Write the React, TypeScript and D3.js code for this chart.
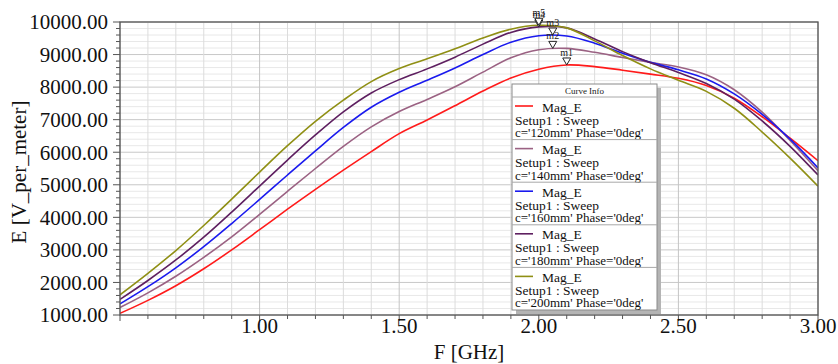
import React from 'react';
import * as d3 from 'd3';

// ---------- data ----------
const freqs = [0.5, 0.6, 0.7, 0.8, 0.9, 1.0, 1.1, 1.2, 1.3, 1.4, 1.5, 1.6, 1.7, 1.8, 1.9, 2.0, 2.1, 2.2, 2.3, 2.4, 2.5, 2.6, 2.7, 2.8, 2.9, 3.0];
const mag120 = [1050, 1450, 1900, 2420, 3000, 3620, 4250, 4860, 5450, 6020, 6570, 6990, 7430, 7880, 8280, 8550, 8680, 8630, 8520, 8400, 8270, 8050, 7660, 7090, 6430, 5740];
const mag140 = [1230, 1680, 2190, 2770, 3400, 4090, 4800, 5500, 6180, 6780, 7250, 7620, 8010, 8460, 8900, 9150, 9190, 9070, 8910, 8760, 8620, 8380, 7920, 7230, 6360, 5430];
const mag160 = [1340, 1870, 2450, 3100, 3810, 4550, 5300, 6040, 6760, 7380, 7840, 8210, 8590, 9000, 9380, 9580, 9570, 9350, 9040, 8760, 8530, 8250, 7790, 7160, 6400, 5520];
const mag180 = [1480, 2060, 2690, 3390, 4160, 4960, 5760, 6530, 7240, 7820, 8230, 8560, 8920, 9320, 9680, 9850, 9820, 9480, 9090, 8750, 8450, 8110, 7630, 6960, 6180, 5300];
const mag200 = [1620, 2280, 2980, 3750, 4560, 5390, 6200, 6950, 7600, 8170, 8570, 8870, 9180, 9510, 9780, 9900, 9820, 9420, 8970, 8560, 8210, 7870, 7350, 6620, 5820, 4960];

const seriesValues = [mag120, mag140, mag160, mag180, mag200];
const seriesLabels = ["c='120mm' Phase='0deg'", "c='140mm' Phase='0deg'", "c='160mm' Phase='0deg'", "c='180mm' Phase='0deg'", "c='200mm' Phase='0deg'"];
const seriesColors = ['#ff1a1a', '#9b6283', '#1a1aee', '#5e1f60', '#8f8f14'];

const xTicks = [1.0, 1.5, 2.0, 2.5, 3.0];
const yTicks = [1000, 2000, 3000, 4000, 5000, 6000, 7000, 8000, 9000, 10000];

const markerNames = ['m1', 'm2', 'm3', 'm4', 'm5'];
const markerFreqs = [2.1, 2.05, 2.05, 2.0, 2.0];
const markerValues = [8680, 9190, 9600, 9850, 9900];

// ---------- layout ----------
const W = 838;
const H = 364;
const L = 120, R = 818, T = 22, B = 315;
const serif = "'Liberation Serif', 'Times New Roman', serif";

export default function App() {
  const x = d3.scaleLinear().domain([0.5, 3.0]).range([L, R]);
  const y = d3.scaleLinear().domain([1000, 10000]).range([B, T]);

  const line = d3
    .line<number>()
    .x((_, i) => x(freqs[i]))
    .y((d) => y(d))
    .curve(d3.curveCatmullRom.alpha(0.5));

  const xGrid = d3.range(5, 31).map((i) => i / 10);
  const yGrid = d3.range(1000, 10001, 200);

  const legX = 512, legY = 84, legW = 145, headH = 13, entryH = 42.6;
  const legH = headH + entryH * 5;

  return (
    <svg width={W} height={H} style={{ position: 'absolute', left: 0, top: 0, background: '#fff' }}>
      <rect x={0} y={0} width={W} height={H} fill="#fff" />
      <defs>
        <clipPath id="plot">
          <rect x={L} y={T} width={R - L} height={B - T} />
        </clipPath>
      </defs>
      {/* grid */}
      {yGrid.map((v) => (
        <line key={'gy' + v} x1={L} x2={R} y1={y(v)} y2={y(v)}
          stroke={v % 1000 === 0 ? '#c8c8c8' : '#e8e8e8'} strokeWidth={1} />
      ))}
      {xGrid.map((f) => (
        <line key={'gx' + f} x1={x(f)} x2={x(f)} y1={T} y2={B}
          stroke={Math.round(f * 10) % 5 === 0 ? '#c4c4c4' : '#dcdcdc'} strokeWidth={1} />
      ))}
      {/* curves */}
      <g clipPath="url(#plot)">
        {seriesValues.map((vals, i) => (
          <path key={'s' + i} d={line(vals) || ''} fill="none" stroke={seriesColors[i]} strokeWidth={1.6} />
        ))}
      </g>
      {/* frame */}
      <rect x={L} y={T} width={R - L} height={B - T} fill="none" stroke="#555" strokeWidth={1.3} />
      {/* y ticks */}
      {yGrid.map((v) => (
        <line key={'ty' + v} x1={v % 1000 === 0 ? L - 7 : L - 4} x2={L} y1={y(v)} y2={y(v)} stroke="#555" strokeWidth={1} />
      ))}
      {/* x ticks */}
      {xGrid.map((f) => (
        <line key={'tx' + f} x1={x(f)} x2={x(f)} y1={B} y2={Math.round(f * 10) % 5 === 0 ? B + 6 : B + 4} stroke="#555" strokeWidth={1} />
      ))}
      {/* tick labels */}
      {yTicks.map((v) => (
        <text key={'ly' + v} x={108} y={y(v)} dy="0.35em" textAnchor="end" fontFamily={serif} fontSize={21} fill="#111">
          {v.toFixed(2)}
        </text>
      ))}
      {xTicks.map((f) => (
        <text key={'lx' + f} x={x(f)} y={333} textAnchor="middle" fontFamily={serif} fontSize={21} fill="#111">
          {f.toFixed(2)}
        </text>
      ))}
      {/* axis titles */}
      <text x={(L + R) / 2} y={359} textAnchor="middle" fontFamily={serif} fontSize={21} fill="#111">F [GHz]</text>
      <text transform={`translate(26, ${172}) rotate(-90)`} textAnchor="middle" fontFamily={serif} fontSize={21} fill="#111">E [V_per_meter]</text>
      {/* markers */}
      {markerNames.map((m, i) => {
        const px = x(markerFreqs[i]);
        const py = y(markerValues[i]);
        return (
          <g key={m}>
            <path d={`M${px - 4},${py - 7}L${px + 4},${py - 7}L${px},${py}Z`} fill="#fff" stroke="#222" strokeWidth={1} />
            <text x={px} y={py - 9} textAnchor="middle" fontFamily={serif} fontSize={10} fill="#222">{m}</text>
          </g>
        );
      })}
      {/* legend */}
      <rect x={legX + 4} y={legY + 4} width={legW} height={legH} fill="#b4b4b4" />
      <rect x={legX} y={legY} width={legW} height={legH} fill="#fff" stroke="#8a8a8a" strokeWidth={1} />
      <text x={legX + legW / 2} y={legY + 10} textAnchor="middle" fontFamily={serif} fontSize={9} fill="#222">Curve Info</text>
      {seriesLabels.map((lab, i) => {
        const top = legY + headH + i * entryH;
        return (
          <g key={'lg' + i}>
            <line x1={legX} x2={legX + legW} y1={top} y2={top} stroke="#a8a8a8" strokeWidth={1} />
            <line x1={legX + 3} x2={legX + 21} y1={top + 9} y2={top + 9} stroke={seriesColors[i]} strokeWidth={1.6} />
            <text x={legX + 30} y={top + 14.5} fontFamily={serif} fontSize={13.5} fill="#111">Mag_E</text>
            <text x={legX + 3} y={top + 27.5} fontFamily={serif} fontSize={13.5} fill="#111">Setup1 : Sweep</text>
            <text x={legX + 3} y={top + 40} fontFamily={serif} fontSize={13} fill="#111">{lab}</text>
          </g>
        );
      })}
    </svg>
  );
}
